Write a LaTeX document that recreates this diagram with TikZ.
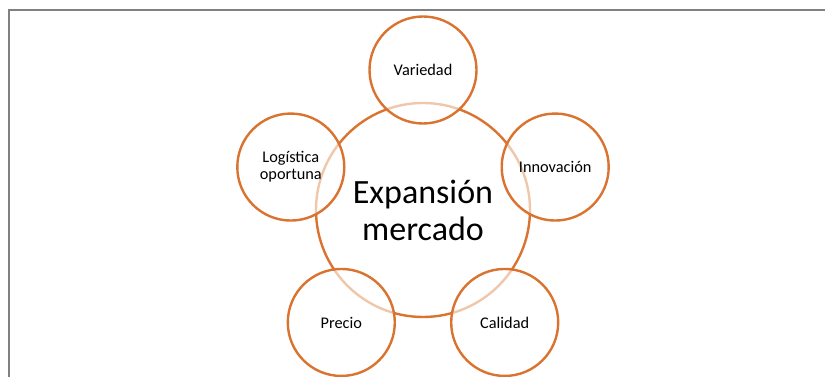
\documentclass[tikz,border=0pt]{standalone}
\usepackage{fontspec}
\setmainfont{Carlito}
\usetikzlibrary{positioning}

\definecolor{naranja}{HTML}{D9732F}
\definecolor{marco}{HTML}{808080}

\begin{document}
\begin{tikzpicture}[x=1pt,y=1pt,
		centro/.style={circle,draw=naranja,line width=2.4pt,fill=white,
			minimum size=214pt,inner sep=0pt,align=center,
			font=\fontsize{34}{37}\selectfont},
		satelite/.style={circle,draw=naranja,line width=2.4pt,fill=white,
			fill opacity=0.6,text opacity=1,minimum size=107pt,inner sep=0pt,
			align=center,font=\fontsize{16.3}{17}\selectfont}]
	\useasboundingbox (0,0) rectangle (825,377);
	\draw[marco,line width=2pt] (8.5,0) -- (8.5,366.5) -- (825,366.5);

	\node[centro] (Mercado) at (423,167) {Expansión\\mercado};
	\node[satelite] (Variedad) at ([shift={(90:140)}]Mercado) {Variedad};
	\node[satelite] (Innovacion) at ([shift={(18:139)}]Mercado) {Innovación};
	\node[satelite] (Calidad) at ([shift={(-54:139)}]Mercado) {Calidad};
	\node[satelite] (Precio) at ([shift={(234:139)}]Mercado) {Precio};
	\node[satelite] (Logistica) at ([shift={(162:139)}]Mercado) {Logística\\oportuna};
\end{tikzpicture}
\end{document}
